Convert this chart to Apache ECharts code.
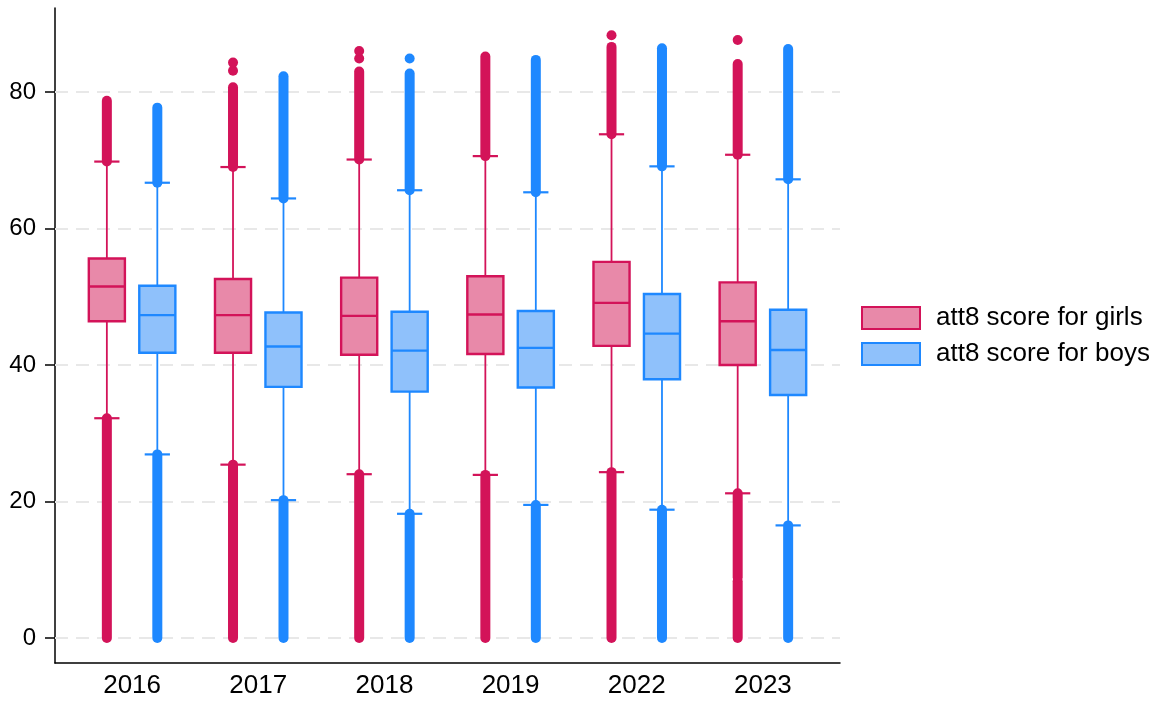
<!DOCTYPE html>
<html>
<head>
<meta charset="utf-8">
<title>att8 scores by year</title>
<script src="https://cdn.jsdelivr.net/npm/echarts@6/dist/echarts.min.js"></script>
<style>
  html, body { margin: 0; padding: 0; background: #ffffff; }
  #chart { width: 1160px; height: 705px; }
</style>
</head>
<body>
<div id="chart"></div>
<script>
// ---- data ----
const categories = ['2016', '2017', '2018', '2019', '2022', '2023'];
const yTicks = [0, 20, 40, 60, 80];

// per year: [lower whisker, Q1, median, Q3, upper whisker]
const girlsBox = [
  [32.2, 46.4, 51.5, 55.6, 69.8],
  [25.4, 41.8, 47.3, 52.6, 69.0],
  [24.0, 41.5, 47.2, 52.8, 70.1],
  [23.9, 41.6, 47.4, 53.0, 70.6],
  [24.3, 42.8, 49.1, 55.1, 73.8],
  [21.2, 40.0, 46.4, 52.1, 70.8]
];
const boysBox = [
  [26.9, 41.8, 47.3, 51.6, 66.7],
  [20.2, 36.8, 42.7, 47.7, 64.4],
  [18.2, 36.1, 42.1, 47.8, 65.6],
  [19.5, 36.7, 42.5, 47.9, 65.3],
  [18.8, 37.9, 44.6, 50.4, 69.1],
  [16.5, 35.6, 42.2, 48.1, 67.2]
];

// outliers so densely packed they merge into a solid column: [year index, from, to]
const girlsOutlierRuns = [
  [0, 0, 32.2], [0, 69.8, 78.7],
  [1, 0, 25.4], [1, 69.0, 80.7],
  [2, 0, 24.0], [2, 70.1, 83.0],
  [3, 0, 23.9], [3, 70.6, 85.2],
  [4, 0, 24.3], [4, 73.8, 86.6],
  [5, 0, 8.3], [5, 8.9, 21.2], [5, 70.8, 84.1]
];
const boysOutlierRuns = [
  [0, 0, 26.9], [0, 66.7, 77.7],
  [1, 0, 20.2], [1, 64.4, 82.3],
  [2, 0, 18.2], [2, 65.6, 82.7],
  [3, 0, 19.5], [3, 65.3, 84.7],
  [4, 0, 18.8], [4, 69.1, 86.4],
  [5, 0, 16.5], [5, 67.2, 86.3]
];

// isolated outliers: [year index, value]
const girlsOutlierPoints = [[1, 83.1], [1, 84.3], [2, 84.9], [2, 86.0], [4, 88.3], [5, 87.6]];
const boysOutlierPoints = [[2, 84.9]];

const girlsName = 'att8 score for girls';
const boysName = 'att8 score for boys';

// ---- styling ----
const FONT = '"Liberation Sans", Arial, Helvetica, sans-serif';
const girls = { line: '#d31359', fill: '#e889a9', offset: -0.2 };
const boys = { line: '#1e88ff', fill: '#8fc1fb', offset: 0.2 };

function boxRenderer(style) {
  return function (params, api) {
    const x = api.value(0) + style.offset;
    const unit = api.size([1, 0])[0];
    const halfBox = unit * 0.143;
    const halfCap = unit * 0.1;
    const pLw = api.coord([x, api.value(1)]);
    const pQ1 = api.coord([x, api.value(2)]);
    const pMed = api.coord([x, api.value(3)]);
    const pQ3 = api.coord([x, api.value(4)]);
    const pUw = api.coord([x, api.value(5)]);
    const cx = pQ1[0];
    const whisker = { stroke: style.line, lineWidth: 1.8 };
    const cap = { stroke: style.line, lineWidth: 2.2 };
    return {
      type: 'group',
      children: [
        { type: 'line', shape: { x1: cx, y1: pQ3[1], x2: cx, y2: pUw[1] }, style: whisker },
        { type: 'line', shape: { x1: cx, y1: pQ1[1], x2: cx, y2: pLw[1] }, style: whisker },
        { type: 'line', shape: { x1: cx - halfCap, y1: pUw[1], x2: cx + halfCap, y2: pUw[1] }, style: cap },
        { type: 'line', shape: { x1: cx - halfCap, y1: pLw[1], x2: cx + halfCap, y2: pLw[1] }, style: cap },
        { type: 'rect', shape: { x: cx - halfBox, y: pQ3[1], width: halfBox * 2, height: pQ1[1] - pQ3[1] },
          style: { fill: style.fill, stroke: style.line, lineWidth: 2.4 } },
        { type: 'line', shape: { x1: cx - halfBox, y1: pMed[1], x2: cx + halfBox, y2: pMed[1] },
          style: { stroke: style.line, lineWidth: 2.4 } }
      ]
    };
  };
}

function runRenderer(style) {
  return function (params, api) {
    const x = api.value(0) + style.offset;
    const a = api.coord([x, api.value(1)]);
    const b = api.coord([x, api.value(2)]);
    return {
      type: 'line',
      shape: { x1: a[0], y1: a[1], x2: b[0], y2: b[1] },
      style: { stroke: style.line, lineWidth: 10, lineCap: 'round' }
    };
  };
}

function boxSeries(name, rows, style) {
  return {
    name: name,
    type: 'custom',
    renderItem: boxRenderer(style),
    data: rows.map((r, i) => [i].concat(r)),
    encode: { x: 0, y: [1, 2, 3, 4, 5] },
    z: 2
  };
}

function runSeries(name, runs, style) {
  return {
    name: name,
    type: 'custom',
    renderItem: runRenderer(style),
    data: runs,
    encode: { x: 0, y: [1, 2] },
    z: 3
  };
}

function pointSeries(name, pts, style) {
  return {
    name: name,
    type: 'scatter',
    symbol: 'circle',
    symbolSize: 10,
    itemStyle: { color: style.line, opacity: 1 },
    data: pts.map(p => [p[0] + style.offset, p[1]]),
    z: 3
  };
}

const chart = echarts.init(document.getElementById('chart'), null, { renderer: 'canvas' });

chart.setOption({
  animation: false,
  backgroundColor: '#ffffff',
  textStyle: { fontFamily: FONT },
  grid: { left: 55, right: 320, top: 8, bottom: 42, containLabel: false },
  legend: {
    orient: 'vertical',
    left: 856,
    top: 300,
    padding: 5,
    itemWidth: 58,
    itemHeight: 22,
    itemGap: 10,
    selectedMode: false,
    textStyle: { fontFamily: FONT, fontSize: 26, color: '#000000', lineHeight: 24, padding: [0, 0, 0, 11] },
    data: [
      { name: girlsName, icon: 'rect', itemStyle: { color: girls.fill, borderColor: girls.line, borderWidth: 2 } },
      { name: boysName, icon: 'rect', itemStyle: { color: boys.fill, borderColor: boys.line, borderWidth: 2 } }
    ]
  },
  xAxis: {
    type: 'value',
    min: -0.611,
    max: 5.611,
    axisLine: { show: true, onZero: false, lineStyle: { color: '#000000', width: 1.5 } },
    axisTick: { show: false },
    splitLine: { show: false },
    axisLabel: {
      customValues: categories.map((c, i) => i),
      formatter: v => categories[Math.round(v)],
      fontFamily: FONT,
      fontSize: 26,
      color: '#000000',
      margin: 10
    }
  },
  yAxis: {
    type: 'value',
    min: -3.66,
    max: 92.3,
    axisLine: { show: true, onZero: false, lineStyle: { color: '#000000', width: 1.5 } },
    axisTick: { show: true, customValues: yTicks, length: 10, lineStyle: { color: '#000000', width: 1.5 } },
    splitLine: { show: false },
    axisLabel: {
      customValues: yTicks,
      fontFamily: FONT,
      fontSize: 24,
      color: '#000000',
      margin: 19
    }
  },
  series: [
    Object.assign(boxSeries(girlsName, girlsBox, girls), {
      markLine: {
        silent: true,
        symbol: 'none',
        label: { show: false },
        lineStyle: { color: '#e8e8e8', width: 2, type: [13, 8] },
        data: yTicks.map(v => ({ yAxis: v })),
        z: 1
      }
    }),
    boxSeries(boysName, boysBox, boys),
    runSeries(girlsName, girlsOutlierRuns, girls),
    runSeries(boysName, boysOutlierRuns, boys),
    pointSeries(girlsName, girlsOutlierPoints, girls),
    pointSeries(boysName, boysOutlierPoints, boys)
  ]
});
</script>
</body>
</html>
